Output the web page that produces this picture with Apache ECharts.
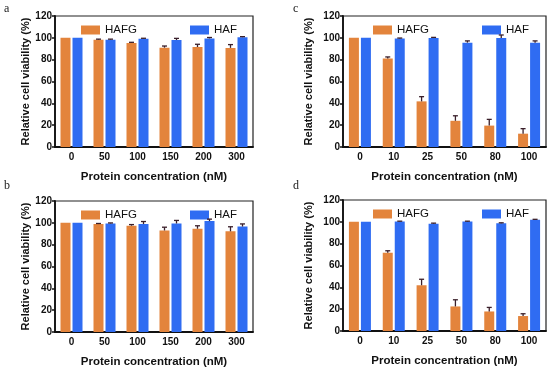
<!DOCTYPE html>
<html>
<head>
<meta charset="utf-8">
<script src="https://cdn.jsdelivr.net/npm/echarts@6/dist/echarts.min.js"></script>
<style>html,body{margin:0;padding:0;background:#fff;}#c{width:550px;height:370px;}</style>
</head>
<body>
<div id="c"></div>
<script>
// ---- data ----
var categoriesAB = ['0', '50', '100', '150', '200', '300'];
var categoriesCD = ['0', '10', '25', '50', '80', '100'];
var yTicks = [0, 20, 40, 60, 80, 100, 120];

var aHAFG = [100, 98.3, 95.3, 91, 91.6, 90.8];
var aHAFGErr = [0, 0.5, 0.6, 1.5, 2.5, 3];
var aHAF = [100, 98.3, 99.2, 98, 99.5, 100.6];
var aHAFErr = [0, 0.5, 0.4, 1.5, 0.8, 0.5];

var bHAFG = [100, 98.9, 97.4, 93, 94.6, 92.2];
var bHAFGErr = [0, 0.5, 1, 3, 2.7, 4.2];
var bHAF = [100, 99.5, 98.9, 99.4, 101.6, 96.6];
var bHAFErr = [0, 0.4, 2.3, 2.8, 1.8, 2.4];

var cHAFG = [100, 81, 41.8, 24, 19.6, 12.2];
var cHAFGErr = [0, 1.5, 4.3, 4.6, 5.7, 4.6];
var cHAF = [100, 99.3, 99.9, 95.6, 99.9, 95.6];
var cHAFErr = [0, 0.5, 0.5, 1.6, 2.7, 1.6];

var dHAFG = [100, 71.7, 41.9, 22.5, 17.9, 13.7];
var dHAFGErr = [0, 1.8, 5.5, 6.1, 3.7, 2.1];
var dHAF = [100, 100.3, 98.2, 100.2, 98.8, 101.8];
var dHAFErr = [0, 0.3, 0.6, 0.4, 0.3, 0.5];

var panelLabels = ['a', 'b', 'c', 'd'];
var seriesNames = ['HAFG', 'HAF'];
var xTitle = 'Protein concentration (nM)';
var yTitle = 'Relative cell viability (%)';

// ---- styles ----
var FONT = 'Liberation Sans, Arial, sans-serif';
var COL_HAFG = '#E3843C';
var COL_HAF = '#2F6CF2';
var ERR_COL = '#3a1f2a';

var panels = [
  {cats: categoriesAB, g: aHAFG, ge: aHAFGErr, f: aHAF, fe: aHAFErr, grid: {left: 55, top: 16, width: 198, height: 131}, nameGap: 23, label: [4, 3], leg: [76, 185]},
  {cats: categoriesAB, g: bHAFG, ge: bHAFGErr, f: bHAF, fe: bHAFErr, grid: {left: 55, top: 201, width: 198, height: 131}, nameGap: 23, label: [4, 180], leg: [76, 185]},
  {cats: categoriesCD, g: cHAFG, ge: cHAFGErr, f: cHAF, fe: cHAFErr, grid: {left: 343, top: 16, width: 203, height: 131}, nameGap: 29, label: [293, 3], leg: [368, 477]},
  {cats: categoriesCD, g: dHAFG, ge: dHAFGErr, f: dHAF, fe: dHAFErr, grid: {left: 343, top: 200, width: 203, height: 131}, nameGap: 29, label: [293, 180], leg: [368, 477]}
];

var grids = [], xAxes = [], yAxes = [], series = [], legends = [], graphics = [];

function errRender(offset) {
  return function (params, api) {
    var e = api.value(2);
    if (!e) return null;
    var top = api.coord([api.value(0), api.value(1) + e]);
    var base = api.coord([api.value(0), api.value(1)]);
    var x = base[0] + offset;
    var style = {stroke: ERR_COL, lineWidth: 1.3};
    return {
      type: 'group',
      children: [
        {type: 'line', shape: {x1: x, y1: base[1], x2: x, y2: top[1]}, style: style},
        {type: 'line', shape: {x1: x - 2.5, y1: top[1], x2: x + 2.5, y2: top[1]}, style: style}
      ]
    };
  };
}

panels.forEach(function (p, i) {
  grids.push(Object.assign({show: true, borderColor: '#222', borderWidth: 1.2, backgroundColor: 'transparent'}, p.grid));
  xAxes.push({
    type: 'category', gridIndex: i, data: p.cats,
    axisLine: {lineStyle: {color: '#111', width: 1.8}},
    axisTick: {alignWithLabel: true, length: 4, lineStyle: {color: '#111', width: 1.5}},
    axisLabel: {color: '#111', fontFamily: FONT, fontWeight: 'bold', fontSize: 10, margin: 5},
    name: xTitle, nameLocation: 'middle', nameGap: 24,
    nameTextStyle: {color: '#111', fontFamily: FONT, fontWeight: 'bold', fontSize: 11.5}
  });
  yAxes.push({
    type: 'value', gridIndex: i, min: yTicks[0], max: yTicks[yTicks.length - 1], interval: 20,
    splitLine: {show: false},
    axisLine: {show: true, lineStyle: {color: '#111', width: 1.8}},
    axisTick: {show: true, length: 3, lineStyle: {color: '#111', width: 1.5}},
    axisLabel: {color: '#111', fontFamily: FONT, fontWeight: 'bold', fontSize: 10, margin: 3},
    name: yTitle, nameLocation: 'middle', nameGap: p.nameGap, nameRotate: 90,
    nameTextStyle: {color: '#111', fontFamily: FONT, fontWeight: 'bold', fontSize: 11}
  });
  series.push({
    name: seriesNames[0], type: 'bar', xAxisIndex: i, yAxisIndex: i, data: p.g,
    barWidth: 10, barGap: '20%', itemStyle: {color: COL_HAFG}
  });
  series.push({
    name: seriesNames[1], type: 'bar', xAxisIndex: i, yAxisIndex: i, data: p.f,
    barWidth: 10, barGap: '20%', itemStyle: {color: COL_HAF}
  });
  series.push({
    type: 'custom', xAxisIndex: i, yAxisIndex: i, z: 5, silent: true,
    renderItem: errRender(-6),
    encode: {x: 0, y: 1},
    data: p.g.map(function (v, k) { return [k, v, p.ge[k]]; })
  });
  series.push({
    type: 'custom', xAxisIndex: i, yAxisIndex: i, z: 5, silent: true,
    renderItem: errRender(6),
    encode: {x: 0, y: 1},
    data: p.f.map(function (v, k) { return [k, v, p.fe[k]]; })
  });
  seriesNames.forEach(function (nm, k) {
    legends.push({
      data: [nm], left: p.leg[k], top: p.grid.top + 3, itemWidth: 19, itemHeight: 9, itemGap: 4,
      icon: 'rect', selectedMode: false,
      textStyle: {color: '#111', fontFamily: FONT, fontSize: 11.5}
    });
  });
  graphics.push({
    type: 'text', left: p.label[0], top: p.label[1],
    style: {text: panelLabels[i], fill: '#222', font: '12px "Liberation Serif", "DejaVu Serif", serif'}
  });
});

var chart = echarts.init(document.getElementById('c'), null, {renderer: 'canvas'});
chart.setOption({
  animation: false,
  backgroundColor: '#fff',
  grid: grids, xAxis: xAxes, yAxis: yAxes, series: series, legend: legends, graphic: graphics
});
</script>
</body>
</html>
